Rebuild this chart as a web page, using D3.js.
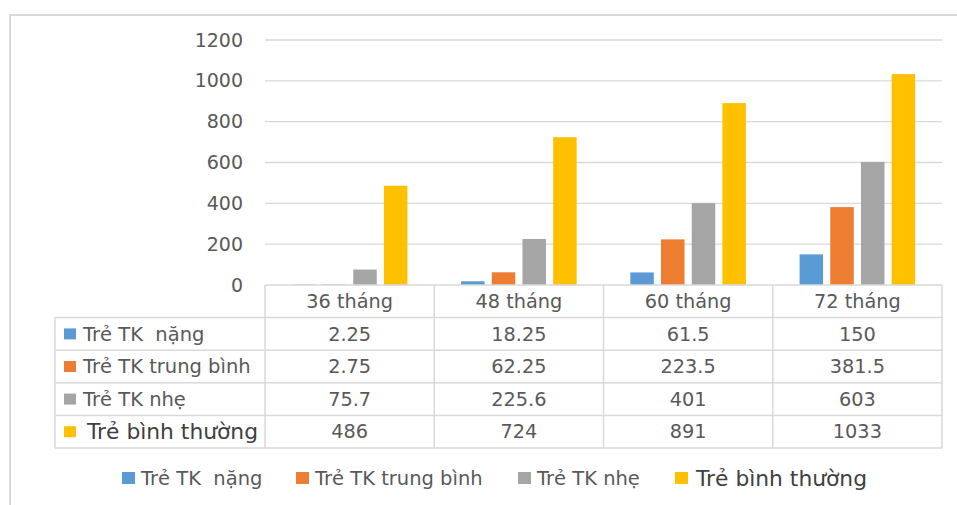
<!DOCTYPE html>
<html><head><meta charset="utf-8">
<script src="https://cdn.jsdelivr.net/npm/d3@7"></script>
<style>body{margin:0;background:#fff}svg{display:block}text{white-space:pre}</style>
</head><body><svg id="c" width="957" height="505"></svg>
<script>
const categories = ["36 tháng","48 tháng","60 tháng","72 tháng"];
const seriesNames = ["Trẻ TK  nặng","Trẻ TK trung bình","Trẻ TK nhẹ","Trẻ bình thường"];
const seriesColors = ["#5B9BD5","#ED7D31","#A5A5A5","#FFC000"];
const nang = [2.25,18.25,61.5,150];
const trungBinh = [2.75,62.25,223.5,381.5];
const nhe = [75.7,225.6,401,603];
const binhThuong = [486,724,891,1033];
const tableLabels = [
  ["2.25","18.25","61.5","150"],
  ["2.75","62.25","223.5","381.5"],
  ["75.7","225.6","401","603"],
  ["486","724","891","1033"]
];
const yTicks = [0,200,400,600,800,1000,1200];
const seriesValues = [nang,trungBinh,nhe,binhThuong];

const svg = d3.select("#c");
const FONT = "DejaVu Sans";
const grid = "#d9d9d9";
const txt = "#595959";

// outer chart border
svg.append("path").attr("d","M10,506 V15 H958").attr("fill","none").attr("stroke",grid).attr("stroke-width",2);

const plotL = 265, plotR = 942, y0 = 285, y1 = 40;
const x0 = d3.scaleBand().domain(categories).range([plotL, plotR]).padding(0);
const x1 = d3.scaleBand().domain(d3.range(4)).range([0, x0.bandwidth()]).paddingInner(0.235).paddingOuter(0.874);
const y = d3.scaleLinear().domain([0,1200]).range([y0,y1]);

// gridlines
svg.append("g").selectAll("line").data(yTicks.filter(d=>d>0)).join("line")
  .attr("x1",plotL).attr("x2",plotR).attr("y1",d=>y(d)).attr("y2",d=>y(d))
  .attr("stroke",grid).attr("stroke-width",1.3);

// y axis labels
const yAxis = d3.axisLeft(y).tickValues(yTicks).tickSize(0).tickPadding(0).tickFormat(d3.format("d"));
const ya = svg.append("g").attr("transform","translate(243,0)").call(yAxis);
ya.select(".domain").remove();
ya.selectAll("text").attr("font-family",FONT).attr("font-size",19).attr("fill",txt);

// bars
const bars = svg.append("g");
categories.forEach((c,ci)=>{
  seriesValues.forEach((vals,si)=>{
    bars.append("rect")
      .attr("x", x0(c)+x1(si))
      .attr("width", x1.bandwidth())
      .attr("y", y(vals[ci]))
      .attr("height", y0 - y(vals[ci]))
      .attr("fill", seriesColors[si]);
  });
});

// data table
const rowH = 32.6;
const tLeft = 55;
const tb = svg.append("g").attr("stroke",grid).attr("stroke-width",1.5).attr("fill","none");
tb.append("line").attr("x1",plotL).attr("x2",plotR).attr("y1",y0).attr("y2",y0);
for(let i=1;i<=5;i++){
  const yy = y0 + i*rowH;
  tb.append("line").attr("x1",tLeft).attr("x2",plotR).attr("y1",yy).attr("y2",yy);
}
const colX = categories.map(c=>x0(c)).concat([plotR]);
colX.forEach(xx=>{
  tb.append("line").attr("x1",xx).attr("x2",xx).attr("y1",y0).attr("y2",y0+5*rowH);
});
tb.append("line").attr("x1",tLeft).attr("x2",tLeft).attr("y1",y0+rowH).attr("y2",y0+5*rowH);

// header text
svg.append("g").selectAll("text").data(categories).join("text")
  .attr("x",d=>x0(d)+x0.bandwidth()/2).attr("y",y0+rowH/2).attr("dy","0.35em")
  .attr("text-anchor","middle").attr("font-family",FONT).attr("font-size",19.3).attr("fill",txt)
  .text(d=>d);

// rows
seriesNames.forEach((s,si)=>{
  const cy = y0 + (si+1)*rowH + rowH/2;
  const big = si===3;
  svg.append("rect").attr("x",64).attr("y",cy-5.5).attr("width",12).attr("height",11).attr("fill",seriesColors[si]);
  svg.append("text").attr("x", big?87:83).attr("y",cy).attr("dy","0.35em")
    .attr("font-family",FONT).attr("font-size",big?21.8:19.5).attr("fill",big?"#404040":txt).text(s);
  categories.forEach((c,ci)=>{
    svg.append("text").attr("x",x0(c)+x0.bandwidth()/2).attr("y",cy).attr("dy","0.35em")
      .attr("text-anchor","middle").attr("font-family",FONT).attr("font-size",19.3).attr("fill",txt)
      .text(tableLabels[si][ci]);
  });
});

// legend
const legX = [122,296,518,675];
const legY = 478;
seriesNames.forEach((s,si)=>{
  const big = si===3;
  svg.append("rect").attr("x",legX[si]).attr("y",legY-6).attr("width",13).attr("height",12).attr("fill",seriesColors[si]);
  svg.append("text").attr("x",legX[si]+(big?21:19)).attr("y",legY).attr("dy","0.35em")
    .attr("font-family",FONT).attr("font-size",big?21.8:19.5).attr("fill",big?"#404040":txt).text(s);
});
</script></body></html>
